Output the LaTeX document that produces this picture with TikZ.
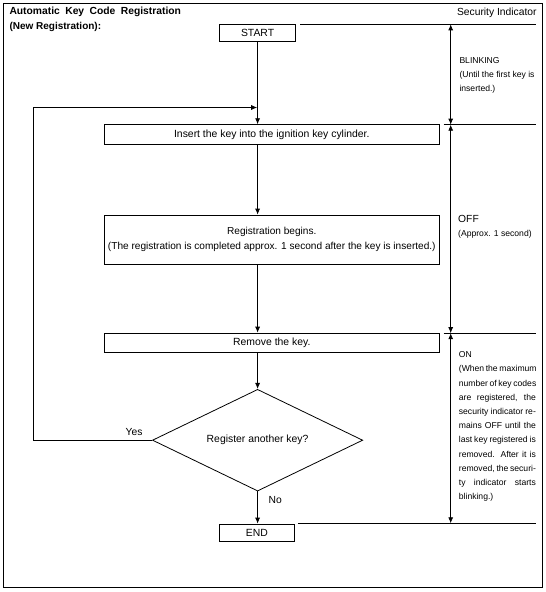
\documentclass[tikz,border=0pt]{standalone}
\usepackage{fontspec}
\setmainfont{Liberation Sans}
\usetikzlibrary{arrows.meta,shapes.geometric}
\tikzset{
  box/.style={draw,line width=0.8pt,rectangle,inner sep=0pt,font=\fontsize{10.4}{15}\selectfont},
  flow/.style={line width=0.8pt,-{Latex[length=6pt,width=5pt]}},
  span/.style={line width=0.8pt,{Latex[length=6pt,width=5pt]}-{Latex[length=6pt,width=5pt]}},
  rule/.style={line width=0.8pt},
  normal/.style={inner sep=0pt,font=\fontsize{10.3}{12}\selectfont},
  small/.style={inner sep=0pt,align=left,font=\fontsize{8.6}{14.2}\selectfont},
  titlefont/.style={inner sep=0pt,font=\fontsize{10}{12}\selectfont\bfseries},
}
\begin{document}
\begin{tikzpicture}[x=1pt,y=-1pt]
\useasboundingbox (0,0) rectangle (546,592);
\node[draw,line width=0.8pt,minimum width=539.3pt,minimum height=584.6pt,inner sep=0pt,anchor=north west] (frame) at (2.7,2.7) {};
% titles
\node[titlefont,anchor=west,font=\fontsize{10.3}{12}\selectfont\bfseries] (t1) at (9.3,12.3) {\makebox[171.5pt][s]{Automatic Key Code Registration}};
\node[titlefont,anchor=west] (t2) at (9.3,26.7) {(New Registration):};
\node[normal,anchor=east] (si) at (536.8,12.5) {Security Indicator};
% flow boxes
\node[box,minimum width=76.3pt,minimum height=17.3pt] (start) at (257.6,32.7) {START};
\node[box,minimum width=335pt,minimum height=19.6pt] (insert) at (271.8,134.5) {Insert the key into the ignition key cylinder.};
\node[box,minimum width=335pt,minimum height=49.3pt,align=center,font=\fontsize{10.1}{15}\selectfont] (reg) at (271.8,239.7) {Registration begins.\\(The registration is completed approx. 1 second after the key is inserted.)};
\node[box,minimum width=335pt,minimum height=19.6pt] (remove) at (271.8,342.9) {Remove the key.};
\node[box,shape=diamond,minimum width=210.3pt,minimum height=101.7pt,shape aspect=2.07] (dia) at (257.6,440.2) {Register another key?};
\node[box,minimum width=75.7pt,minimum height=17.3pt] (end) at (256.9,532.7) {END};
% flow connectors
\draw[flow] (start.south) -- (start.south |- insert.north);
\draw[flow] (start.south |- insert.south) -- (start.south |- reg.north);
\draw[flow] (start.south |- reg.south) -- (start.south |- remove.north);
\draw[flow] (start.south |- remove.south) -- (dia.north);
\draw[flow] (dia.south) -- (dia.south |- end.north);
\coordinate (lp1) at (33.3,440.2);
\coordinate (lp2) at (33.3,107.5);
\coordinate (lp3) at (257.2,107.5);
\draw[flow] (dia.west) -- (lp1) -- (lp2) -- (lp3);
\node[normal] (yes) at (134,431.7) {Yes};
\node[normal] (no) at (275.3,500) {No};
% right side indicator
\coordinate (a0) at (450.7,24.3);
\coordinate (a1) at (450.7,124.7);
\coordinate (a2) at (450.7,333.2);
\coordinate (a3) at (450.7,523.3);
\coordinate (h0a) at (300,24.3);
\coordinate (h0b) at (535.5,24.3);
\coordinate (h1a) at (443.5,124.7);
\coordinate (h1b) at (535.5,124.7);
\coordinate (h2a) at (443.5,333.2);
\coordinate (h2b) at (535.5,333.2);
\coordinate (h3a) at (298,523.3);
\coordinate (h3b) at (535.5,523.3);
\draw[rule] (h0a) -- (h0b);
\draw[rule] (h1a) -- (h1b);
\draw[rule] (h2a) -- (h2b);
\draw[rule] (h3a) -- (h3b);
\draw[span] (a0) -- (a1);
\draw[span] (a1) -- (a2);
\draw[span] (a2) -- (a3);
% indicator texts
\node[small,anchor=north west,font=\fontsize{8.6}{14}\selectfont] (blink) at (459.3,57.5) {BLINKING\\(Until the first key is\\inserted.)};
\node[normal,anchor=west] (off) at (458,219) {OFF};
\node[small,anchor=west] (approx) at (458,234) {(Approx. 1 second)};
\node[small,anchor=north west] (on) at (458.7,351.5) {ON\\
\makebox[77pt][s]{(When the maximum}\\
\makebox[77pt][s]{number of key codes}\\
\makebox[77pt][s]{are registered, the}\\
\makebox[77pt][s]{security indicator re-}\\
\makebox[77pt][s]{mains OFF until the}\\
\makebox[77pt][s]{last key registered is}\\
\makebox[77pt][s]{removed. After it is}\\
\makebox[77pt][s]{removed, the securi-}\\
\makebox[77pt][s]{ty indicator starts}\\
blinking.)};
\end{tikzpicture}
\end{document}
